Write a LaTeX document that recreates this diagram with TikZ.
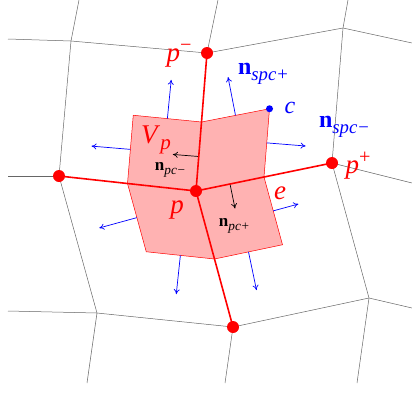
\documentclass[tikz,border=0pt]{standalone}
\usepackage{fontspec}
\setmainfont{Liberation Serif}
\usepackage{tikz}
\usetikzlibrary{arrows.meta, calc}

\newcommand{\vsym}[1]{\textit{#1}}
\newcommand{\lsub}[1]{\raisebox{-0.24em}{\scalebox{0.78}{#1}}}
\newcommand{\lsup}[1]{\raisebox{0.38em}{\scalebox{0.75}{#1}}}
\newcommand{\nvec}[2]{\textbf{n}\lsub{\textit{#1\kern0.05em}#2}}

\tikzset{
  gridline/.style={gray!80!black, line width=0.5pt},
  meshedge/.style={red, line width=1.6pt},
  meshpt/.style={circle, fill=red, inner sep=0pt, minimum size=12pt},
  subcell/.style={draw=red, line width=0.5pt, fill=red!30},
  outnormal/.style={->, blue, line width=0.7pt},
  cornernormal/.style={->, black, line width=0.7pt},
  redlab/.style={text=red, inner sep=0pt, font=\fontsize{27}{29}\selectfont},
  bluelab/.style={text=blue, inner sep=0pt, font=\fontsize{24}{26}\selectfont},
  blacklab/.style={text=black, inner sep=0pt, font=\fontsize{17}{19}\selectfont}
}

\begin{document}
\begin{tikzpicture}[x=1pt, y=-1pt, >={To[length=5pt, width=6pt]}]
        \useasboundingbox (0,0) rectangle (412,394);
        % mesh points
        \coordinate (p) at (196,191);
        \coordinate (pm) at (207,53);
        \coordinate (pl) at (59,176);
        \coordinate (pp) at (332,163);
        \coordinate (pb) at (233,327);
        \coordinate (tl) at (71,41);
        \coordinate (tr) at (343,28);
        \coordinate (bl) at (97,313);
        \coordinate (br) at (369,298);
        % background mesh
        \draw[gridline] (8,39) -- (tl) -- (pm) -- (tr) -- (412,43);
        \draw[gridline] (79,0) -- (tl) -- (pl) -- (bl) -- (87,383);
        \draw[gridline] (218,0) -- (pm);
        \draw[gridline] (348,0) -- (tr) -- (pp) -- (br) -- (357,383);
        \draw[gridline] (8,176) -- (pl);
        \draw[gridline] (pp) -- (412,183);
        \draw[gridline] (8,311) -- (bl) -- (pb) -- (br) -- (412,308);
        \draw[gridline] (pb) -- (225,383);
        % cell centres and edge midpoints
        \coordinate (ctl) at ($0.25*(tl)+0.25*(pm)+0.25*(p)+0.25*(pl)$);
        \coordinate (c) at ($0.25*(pm)+0.25*(tr)+0.25*(pp)+0.25*(p)$);
        \coordinate (cbr) at ($0.25*(p)+0.25*(pp)+0.25*(br)+0.25*(pb)$);
        \coordinate (cbl) at ($0.25*(pl)+0.25*(p)+0.25*(pb)+0.25*(bl)$);
        \coordinate (m1) at ($(p)!0.5!(pm)$);
        \coordinate (m2) at ($(p)!0.5!(pp)$);
        \coordinate (m3) at ($(p)!0.5!(pb)$);
        \coordinate (m4) at ($(p)!0.5!(pl)$);
        % dual cell V_p
        \draw[subcell] (ctl) -- (m1) -- (c) -- (m2) -- (cbr) -- (m3) -- (cbl) -- (m4) -- cycle;
        % outward normals of the sub-faces
        \foreach \a/\b/\len in {ctl/m1/39, m1/c/39, c/m2/39, m2/cbr/26, cbr/m3/39, m3/cbl/39, cbl/m4/39, m4/ctl/39}{
          \coordinate (f) at ($(\a)!0.5!(\b)$);
          \draw[outnormal] (f) -- ($(f)!\len pt!90:(\b)$);
        }
        % corner normals
        \coordinate (na) at ($(p)!0.25!(pm)$);
        \coordinate (nb) at ($(p)!0.25!(pp)$);
        \draw[cornernormal] (na) -- ($(na)!26pt!90:(pm)$);
        \draw[cornernormal] (nb) -- ($(nb)!25pt!-90:(pp)$);
        % edges at p
        \draw[meshedge] (p) -- (pm);
        \draw[meshedge] (p) -- (pl);
        \draw[meshedge] (p) -- (pp);
        \draw[meshedge] (p) -- (pb);
        \foreach \q in {p, pm, pl, pp, pb}
          \node[meshpt] at (\q) {};
        \fill[blue] (c) circle (3.5pt);
        % labels
        \node[redlab] (pmlab) at (179,56) {\vsym{p}\lsup{−}};
        \node[redlab] (pplab) at (358,166) {\vsym{p}\lsup{+}};
        \node[redlab] (plab) at (177,210) {\vsym{p}};
        \node[redlab] (vlab) at (156,140) {\vsym{V}\lsub{\vsym{p}}};
        \node[redlab] (elab) at (280,193) {\vsym{e}};
        \node[bluelab] (clab) at (290,108) {\vsym{c}};
        \node[bluelab] (nsplab) at (263,74) {\nvec{spc}{+}};
        \node[bluelab] (nsmlab) at (344,127) {\nvec{spc}{−}};
        \node[blacklab] (npmlab) at (170,170) {\nvec{pc}{−}};
        \node[blacklab] (npplab) at (234,226) {\nvec{pc}{+}};
      \end{tikzpicture}
\end{document}
